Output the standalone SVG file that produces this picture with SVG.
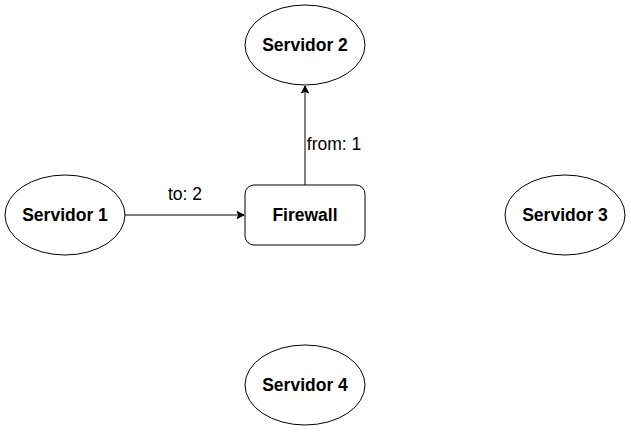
<svg xmlns="http://www.w3.org/2000/svg" width="631" height="432" viewBox="0 0 631 432">
<defs>
<style>
.shape{fill:#ffffff;stroke:#000000;stroke-width:1}
.lbl{font-family:"Liberation Sans",Arial,sans-serif;font-size:17.5px;font-weight:bold;text-anchor:middle;fill:#000}
.elbl{font-family:"Liberation Sans",Arial,sans-serif;font-size:17.5px;text-anchor:middle;fill:#000}
.edge{stroke:#000;stroke-width:1;fill:none}
</style>
<marker id="arr" markerWidth="10" markerHeight="10" refX="8" refY="5" orient="auto" markerUnits="userSpaceOnUse">
<path d="M1,1.5 L8,5 L1,8.5 L2.8,5 Z" fill="#000" stroke="#000" stroke-width="1"/>
</marker>
</defs>
<rect width="631" height="432" fill="#ffffff"/>
<g id="connectors">
<line class="edge" x1="125" y1="215" x2="244" y2="215" marker-end="url(#arr)"/>
<text class="elbl" x="185" y="200">to: 2</text>
<line class="edge" x1="305" y1="185" x2="305" y2="86" marker-end="url(#arr)"/>
<text class="elbl" x="334" y="150">from: 1</text>
</g>
<g id="servidor1">
<ellipse class="shape" cx="65" cy="215" rx="60" ry="40"/>
<text class="lbl" x="65" y="221">Servidor 1</text>
</g>
<g id="servidor2">
<ellipse class="shape" cx="305" cy="45" rx="60" ry="40"/>
<text class="lbl" x="305" y="51">Servidor 2</text>
</g>
<g id="servidor3">
<ellipse class="shape" cx="565" cy="215" rx="60" ry="40"/>
<text class="lbl" x="565" y="221">Servidor 3</text>
</g>
<g id="servidor4">
<ellipse class="shape" cx="305" cy="385" rx="60" ry="40"/>
<text class="lbl" x="305" y="391">Servidor 4</text>
</g>
<g id="firewall">
<rect class="shape" x="245" y="185" width="120" height="60" rx="9" ry="9"/>
<text class="lbl" x="305" y="221">Firewall</text>
</g>
</svg>
